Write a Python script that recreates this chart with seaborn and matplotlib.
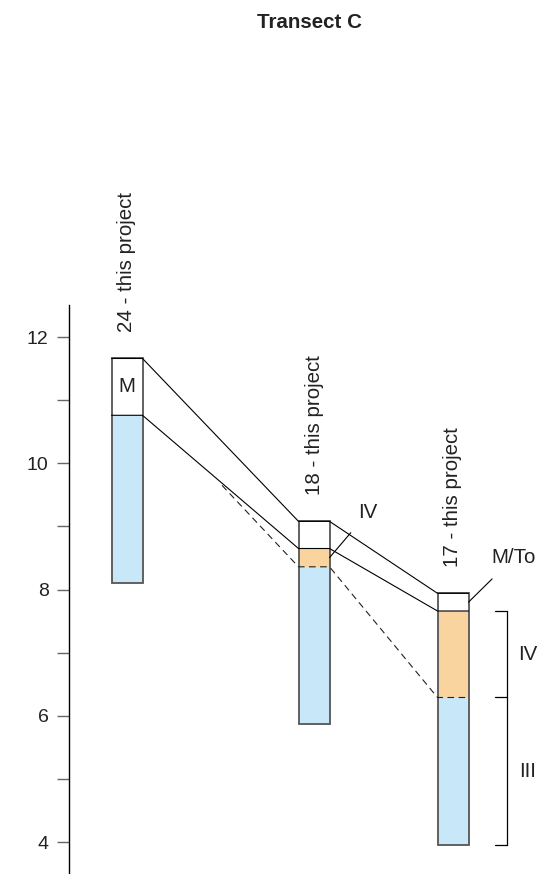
"""Transect C: stacked core columns with correlation lines."""

import matplotlib.pyplot as plt
import numpy as np
import seaborn as sns

# columns along the transect (x = position along transect, arbitrary units)
stations = ["24", "18", "17"]
xpos = np.array([0.0, 1.87, 3.26])
top = np.array([11.66, 9.08, 7.94])        # top of column (M unit top)
m_base = np.array([10.76, 8.65, 7.66])     # base of M / M-To
iv_base = np.array([10.76, 8.36, 6.29])    # base of unit IV
bottom = np.array([8.11, 5.87, 3.95])      # base of column
dash_start = (0.95, 9.65)

yticks = [4, 6, 8, 10, 12]
BLUE = "#c8e7f8"
ORANGE = "#fad49f"
WIDTH = 0.31
FS = 14.8

sns.set_theme(style="ticks")
plt.rcParams["font.family"] = ["Liberation Sans", "DejaVu Sans"]

fig = plt.figure(figsize=(5.58, 8.74), dpi=100)
ax = fig.add_axes([69 / 558, 1 / 874, 489 / 558, 568 / 874])

# fills
ax.bar(xpos, top - m_base, bottom=m_base, width=WIDTH, color="white", lw=0)
ax.bar(xpos, m_base - iv_base, bottom=iv_base, width=WIDTH, color=ORANGE, lw=0)
ax.bar(xpos, iv_base - bottom, bottom=bottom, width=WIDTH, color=BLUE, lw=0)
# column outlines
ax.bar(xpos, top - bottom, bottom=bottom, width=WIDTH, fill=False,
       edgecolor="#555555", lw=1.3)

left = xpos - WIDTH / 2
right = xpos + WIDTH / 2
xs = np.column_stack([left, right]).ravel()

sns.lineplot(x=xs, y=np.repeat(top, 2), color="black", lw=0.8, ax=ax,
             sort=False, estimator=None)
sns.lineplot(x=xs, y=np.repeat(m_base, 2), color="black", lw=0.8, ax=ax,
             sort=False, estimator=None)
dx = np.concatenate([[dash_start[0]], xs[2:]])
dy = np.concatenate([[dash_start[1]], np.repeat(iv_base[1:], 2)])
ax.plot(dx, dy, color="#222222", lw=0.8, dashes=(6, 4))

for x, t, s in zip(xpos, top, stations):
    ax.text(x, t + 0.42, f"{s} - this project", rotation=90, ha="center",
            va="bottom", fontsize=FS, color="#222222")

ax.text(xpos[0], (top[0] + m_base[0]) / 2, "M", ha="center", va="center",
        fontsize=FS, color="#222222")

ax.annotate("IV", xy=(right[1], (m_base[1] + iv_base[1]) / 2),
            xytext=(2.41, 9.22), ha="center", va="center", fontsize=FS,
            color="#222222",
            arrowprops=dict(arrowstyle="-", color="black", lw=0.8,
                            shrinkA=7, shrinkB=0))
ax.annotate("M/To", xy=(right[2], (top[2] + m_base[2]) / 2),
            xytext=(3.87, 8.51), ha="center", va="center", fontsize=FS,
            color="#222222",
            arrowprops=dict(arrowstyle="-", color="black", lw=0.8,
                            shrinkA=9, shrinkB=0))

# unit bracket at the right of column 17
bx0, bx1 = 3.68, 3.80
levels = [m_base[2], iv_base[2], bottom[2]]
ax.plot([bx1, bx1], [levels[0], levels[-1]], color="black", lw=0.9)
for lv in levels:
    ax.plot([bx0, bx1], [lv, lv], color="black", lw=0.9)
ax.text(4.01, (levels[0] + levels[1]) / 2, "IV", ha="center", va="center",
        fontsize=FS, color="#222222")
ax.text(4.01, (levels[1] + levels[2]) / 2, "III", ha="center", va="center",
        fontsize=FS, color="#222222")

ax.set_xlim(-0.58, 4.31)
ax.set_ylim(3.51, 12.507)
ax.set_yticks(yticks)
ax.set_yticks([5, 7, 9, 11], minor=True)
ax.set_xticks([])
ax.tick_params(axis="y", which="both", direction="out", length=8.6,
               width=1.0, color="#666666", pad=6, labelsize=14,
               labelcolor="#222222")
sns.despine(ax=ax, top=True, right=True, bottom=True)
ax.spines["left"].set_color("black")
ax.spines["left"].set_linewidth(1.0)
ax.patch.set_alpha(0)

fig.text(309 / 558, 1 - 22 / 874, "Transect C", ha="center", va="center",
         fontsize=14.8, fontweight="bold", color="#222222")

fig.savefig("out.png", dpi=100)
plt.close(fig)
